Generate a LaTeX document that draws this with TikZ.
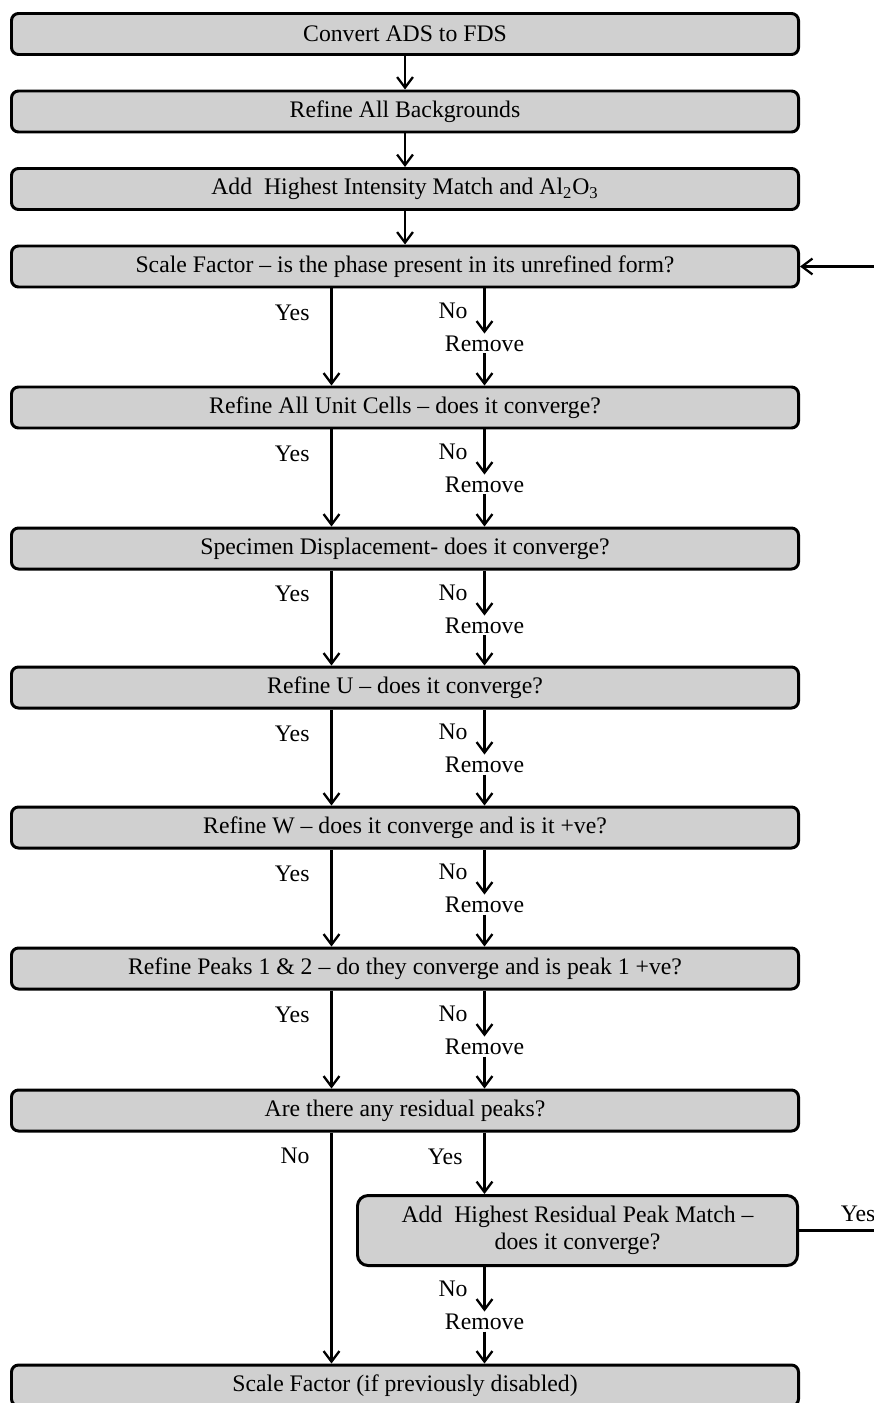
\documentclass[tikz,border=0pt]{standalone}
\usepackage{fontspec}
\setmainfont{Liberation Serif}
\usetikzlibrary{arrows.meta}
\definecolor{boxgray}{RGB}{208,208,208}
\tikzset{
  stepbox/.style={draw, line width=1.7pt, rounded corners=4pt, fill=boxgray, minimum width=15.74cm, minimum height=0.82cm, inner sep=2pt},
  flow/.style={line width=1.3pt, -{Straight Barb[length=6pt,width=9pt]}},
  rmnode/.style={inner sep=1pt},
  yeslbl/.style={pos=0.25, left=0.3cm},
  nolbl/.style={left=0.2cm},
}

\begin{document}
\begin{tikzpicture}[node distance=1.55cm, font=\fontsize{13.5}{15.5}\selectfont]
        \useasboundingbox (0,0) rectangle (17.46,-28.06);
        \node[stepbox] (b1) at (8.1,-0.68) {Convert ADS to FDS};
        \node[stepbox, below of=b1] (b2) {Refine All Backgrounds};
        \node[stepbox, below of=b2] (b3) {Add\ \ Highest Intensity Match and Al\textsubscript{2}O\textsubscript{3}};
        \node[stepbox, below of=b3] (b4) {Scale Factor -- is the phase present in its unrefined form?};
        \node[stepbox, below of=b4, node distance=2.82cm] (b5) {Refine All Unit Cells -- does it converge?};
        \node[stepbox, below of=b5, node distance=2.82cm] (b6) {Specimen Displacement- does it converge?};
        \node[stepbox, below of=b6, node distance=2.78cm] (b7) {Refine U -- does it converge?};
        \node[stepbox, below of=b7, node distance=2.8cm] (b8) {Refine W -- does it converge and is it +ve?};
        \node[stepbox, below of=b8, node distance=2.82cm] (b9) {Refine Peaks 1 \& 2 -- do they converge and is peak 1 +ve?};
        \node[stepbox, below of=b9, node distance=2.84cm] (b10) {Are there any residual peaks?};
        \node[stepbox, minimum width=8.8cm, minimum height=1.4cm, rounded corners=6pt, align=center, below of=b10, node distance=2.4cm, xshift=3.45cm] (b11) {Add\ \ Highest Residual Peak Match --\\does it converge?};
        \node[stepbox, below of=b10, node distance=5.5cm] (b12) {Scale Factor (if previously disabled)};
        % remove steps
        \node[rmnode, below of=b4, node distance=1.54cm, xshift=1.59cm] (r4) {Remove};
        \node[rmnode, below of=b5, node distance=1.54cm, xshift=1.59cm] (r5) {Remove};
        \node[rmnode, below of=b6, node distance=1.54cm, xshift=1.59cm] (r6) {Remove};
        \node[rmnode, below of=b7, node distance=1.54cm, xshift=1.59cm] (r7) {Remove};
        \node[rmnode, below of=b8, node distance=1.54cm, xshift=1.59cm] (r8) {Remove};
        \node[rmnode, below of=b9, node distance=1.56cm, xshift=1.59cm] (r9) {Remove};
        \node[rmnode, below of=b10, node distance=4.22cm, xshift=1.59cm] (r11) {Remove};
        \coordinate (loopin) at ([xshift=1.5cm]b4.east);
        \coordinate (loopout) at ([xshift=1.6cm]b11.east);
        \draw[flow] (b1) -- (b2);
        \draw[flow] (b2) -- (b3);
        \draw[flow] (b3) -- (b4);
        \draw[flow] (loopin) -- (b4);
        \draw[flow] ([xshift=-1.47cm]b4.south) -- node[yeslbl] {Yes} ([xshift=-1.47cm]b5.north);
        \draw[flow] ([xshift=1.59cm]b4.south) -- node[nolbl] {No} (r4);
        \draw[flow] (r4) -- ([xshift=1.59cm]b5.north);
        \draw[flow] ([xshift=-1.47cm]b5.south) -- node[yeslbl] {Yes} ([xshift=-1.47cm]b6.north);
        \draw[flow] ([xshift=1.59cm]b5.south) -- node[nolbl] {No} (r5);
        \draw[flow] (r5) -- ([xshift=1.59cm]b6.north);
        \draw[flow] ([xshift=-1.47cm]b6.south) -- node[yeslbl] {Yes} ([xshift=-1.47cm]b7.north);
        \draw[flow] ([xshift=1.59cm]b6.south) -- node[nolbl] {No} (r6);
        \draw[flow] (r6) -- ([xshift=1.59cm]b7.north);
        \draw[flow] ([xshift=-1.47cm]b7.south) -- node[yeslbl] {Yes} ([xshift=-1.47cm]b8.north);
        \draw[flow] ([xshift=1.59cm]b7.south) -- node[nolbl] {No} (r7);
        \draw[flow] (r7) -- ([xshift=1.59cm]b8.north);
        \draw[flow] ([xshift=-1.47cm]b8.south) -- node[yeslbl] {Yes} ([xshift=-1.47cm]b9.north);
        \draw[flow] ([xshift=1.59cm]b8.south) -- node[nolbl] {No} (r8);
        \draw[flow] (r8) -- ([xshift=1.59cm]b9.north);
        \draw[flow] ([xshift=-1.47cm]b9.south) -- node[yeslbl] {Yes} ([xshift=-1.47cm]b10.north);
        \draw[flow] ([xshift=1.59cm]b9.south) -- node[nolbl] {No} (r9);
        \draw[flow] (r9) -- ([xshift=1.59cm]b10.north);
        % residual peaks
        \draw[flow] ([xshift=-1.47cm]b10.south) -- node[pos=0.1, left=0.3cm] {No} ([xshift=-1.47cm]b12.north);
        \draw[flow] ([xshift=1.59cm]b10.south) -- node[pos=0.4, left=0.3cm] {Yes} ([xshift=1.59cm]b10.south |- b11.north);
        \draw[flow] ([xshift=1.59cm]b10.south |- b11.south) -- node[nolbl] {No} (r11);
        \draw[flow] (r11) -- ([xshift=1.59cm]b12.north);
        \draw[line width=1.3pt] (b11) -- node[pos=0.74, above=1pt] {Yes} (loopout);
\end{tikzpicture}
\end{document}
